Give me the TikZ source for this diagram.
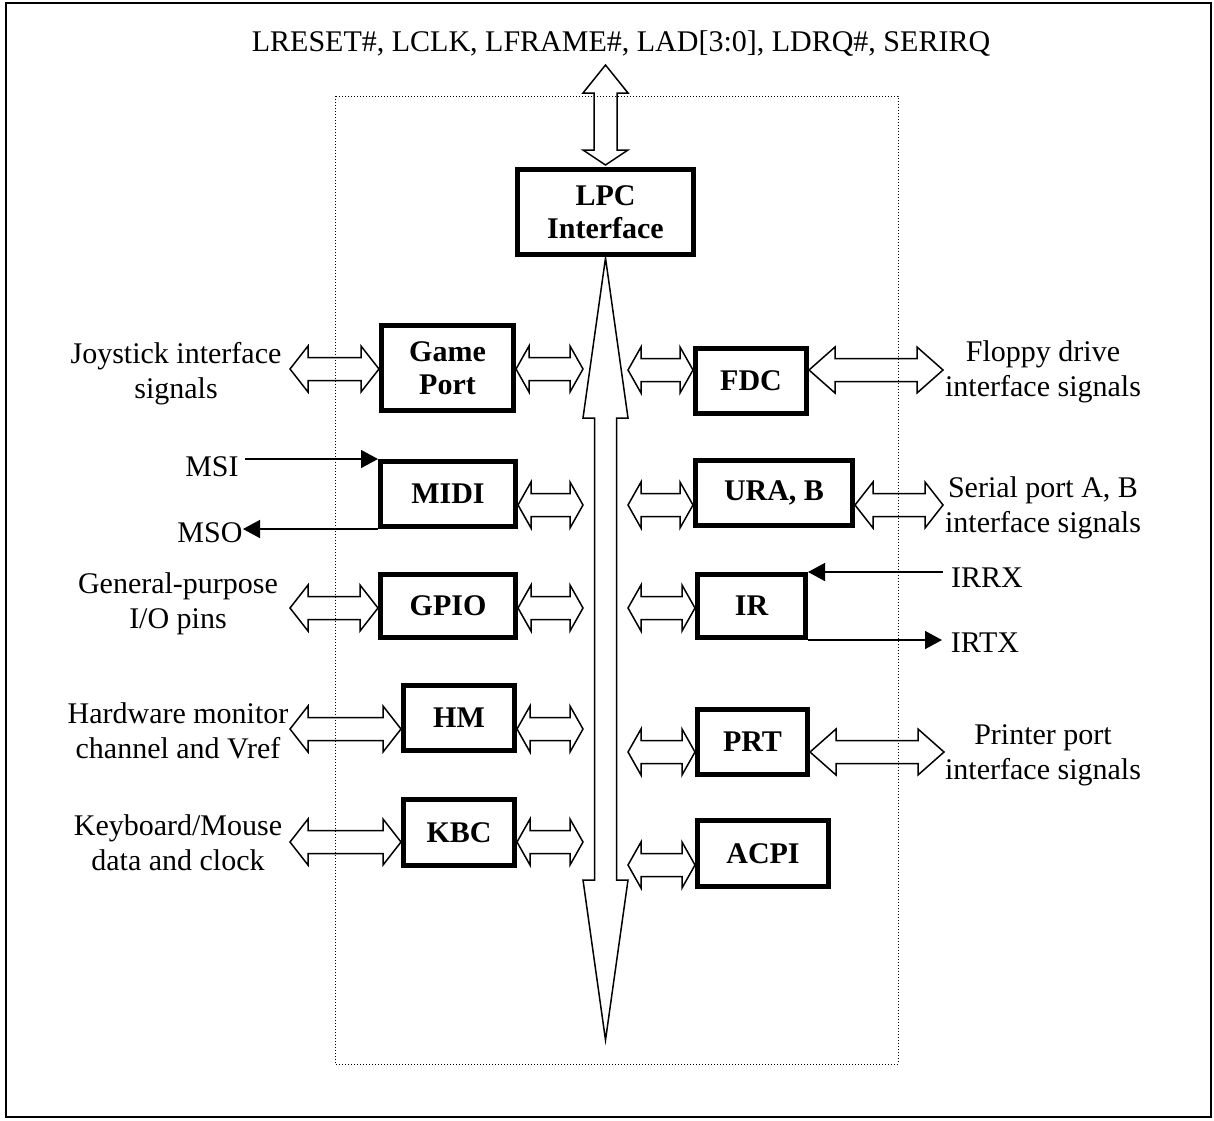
\documentclass[tikz,border=0pt]{standalone}
\usepackage{fontspec}
\setmainfont{Liberation Serif}
\usetikzlibrary{calc,arrows.meta}
% horizontal hollow double block arrow: #1 left tip, #2 right tip (x only), #3 head length
\newcommand\blockarrowH[3]{%
  \draw[blk] let \p1=(#1), \p2=(#2) in
    (\x1,\y1) -- (\x1+#3pt,\y1+23pt) -- (\x1+#3pt,\y1+11.5pt) -- (\x2-#3pt,\y1+11.5pt)
    -- (\x2-#3pt,\y1+23pt) -- (\x2,\y1) -- (\x2-#3pt,\y1-23pt) -- (\x2-#3pt,\y1-11.5pt)
    -- (\x1+#3pt,\y1-11.5pt) -- (\x1+#3pt,\y1-23pt) -- cycle;}
\begin{document}
\begin{tikzpicture}[x=1pt,y=-1pt,
  font=\fontsize{30}{35}\selectfont,
  box/.style={draw, line width=5pt, font=\fontsize{30}{33}\selectfont\bfseries, align=center, inner sep=0pt},
  blk/.style={draw, line width=1.5pt, line join=miter},
  sig/.style={line width=1.5pt, -{Triangle[length=17pt,width=18pt]}},
  lbl/.style={align=center, inner sep=0pt}]
\useasboundingbox (0,0) rectangle (1214,1120);
\draw[line width=2pt] (6,3) rectangle (1211,1117);
\draw[line width=1pt, dash pattern=on 1pt off 2pt] (335,96) rectangle (898,1064);

% title
\node[lbl] (top) at (621,44) {LRESET\#, LCLK, LFRAME\#, LAD[3:0], LDRQ\#, SERIRQ};

% boxes
\node[box, minimum width=176pt, minimum height=85pt] (lpc)  at (605.5,212) {LPC\\Interface};
\node[box, minimum width=132pt, minimum height=85pt] (gp)   at (447.5,368) {Game\\Port};
\node[box, minimum width=135pt, minimum height=65pt] (midi) at (448,494)   {MIDI};
\node[box, minimum width=135pt, minimum height=63pt] (gpio) at (448,606)   {GPIO};
\node[box, minimum width=111pt, minimum height=65pt] (hm)   at (459,718)   {HM};
\node[box, minimum width=111pt, minimum height=66pt] (kbc)  at (459,832.5) {KBC};
\node[box, minimum width=111pt, minimum height=65pt] (fdc)  at (751,381)   {FDC};
\node[box, minimum width=157pt, minimum height=65pt] (ura)  at (774,493)   {URA, B};
\node[box, minimum width=108pt, minimum height=63pt] (ir)   at (751.5,606) {IR};
\node[box, minimum width=110pt, minimum height=65pt] (prt)  at (752.5,742) {PRT};
\node[box, minimum width=131pt, minimum height=66pt] (acpi) at (763,853.5) {ACPI};

% outside labels
\node[lbl] (joy)  at (176,374) {Joystick interface\\signals};
\node[lbl] (gpl)  at (178,604) {General-purpose\\I/O pins};
\node[lbl] (hml)  at (178,731) {Hardware monitor\\channel and Vref};
\node[lbl] (kbl)  at (178,843) {Keyboard/Mouse\\data and clock};
\node[lbl] (fdl)  at (1043,372) {Floppy drive\\interface signals};
\node[lbl] (srl)  at (1043,508) {Serial port A, B\\interface signals};
\node[lbl] (prl)  at (1043,755) {Printer port\\interface signals};
\node[lbl] (msi)  at (212,467) {MSI};
\node[lbl] (mso)  at (210,533) {MSO};
\node[lbl] (irrx) at (987,578) {IRRX};
\node[lbl] (irtx) at (985,643) {IRTX};

% top LPC arrow and internal bus
\draw[blk] (605.5,65) -- (628,93) -- (617,93) -- (617,150) -- (628,150) -- (605.5,165)
  -- (583,150) -- (594,150) -- (594,93) -- (583,93) -- cycle;
\draw[blk] (605.5,258) -- (628,418) -- (616.5,418) -- (616.5,880) -- (628,880) -- (605.5,1040)
  -- (583,880) -- (594.5,880) -- (594.5,418) -- (583,418) -- cycle;

% left outer arrows
\blockarrowH{290,369}{gp.west |- 0,369}{18}
\blockarrowH{290,608}{gpio.west |- 0,608}{18}
\blockarrowH{290,729}{hm.west |- 0,729}{18}
\blockarrowH{290,842}{kbc.west |- 0,842}{18}
% left inner arrows
\blockarrowH{gp.east |- 0,369}{583,369}{13}
\blockarrowH{midi.east |- 0,505}{583,505}{13}
\blockarrowH{gpio.east |- 0,608}{583,608}{13}
\blockarrowH{hm.east |- 0,729}{583,729}{13}
\blockarrowH{kbc.east |- 0,842}{583,842}{13}
% right inner arrows
\blockarrowH{628,370}{fdc.west |- 0,370}{13}
\blockarrowH{628,505}{ura.west |- 0,505}{13}
\blockarrowH{628,608}{ir.west |- 0,608}{13}
\blockarrowH{628,752}{prt.west |- 0,752}{13}
\blockarrowH{628,865}{acpi.west |- 0,865}{13}
% right outer arrows
\blockarrowH{fdc.east |- 0,370}{943,370}{26}
\blockarrowH{ura.east |- 0,505}{943,505}{18}
\blockarrowH{prt.east |- 0,752}{944,752}{26}

% signal lines
\coordinate (msiS) at (245,459);
\coordinate (msoE) at (243,529);
\coordinate (irrxS) at (943,572);
\coordinate (irtxE) at (942,640);
\draw[sig] (msiS) -- (midi.north west);
\draw[sig] (midi.south west) -- (msoE);
\draw[sig] (irrxS) -- (ir.north east);
\draw[sig] (ir.south east) -- (irtxE);
\end{tikzpicture}
\end{document}
